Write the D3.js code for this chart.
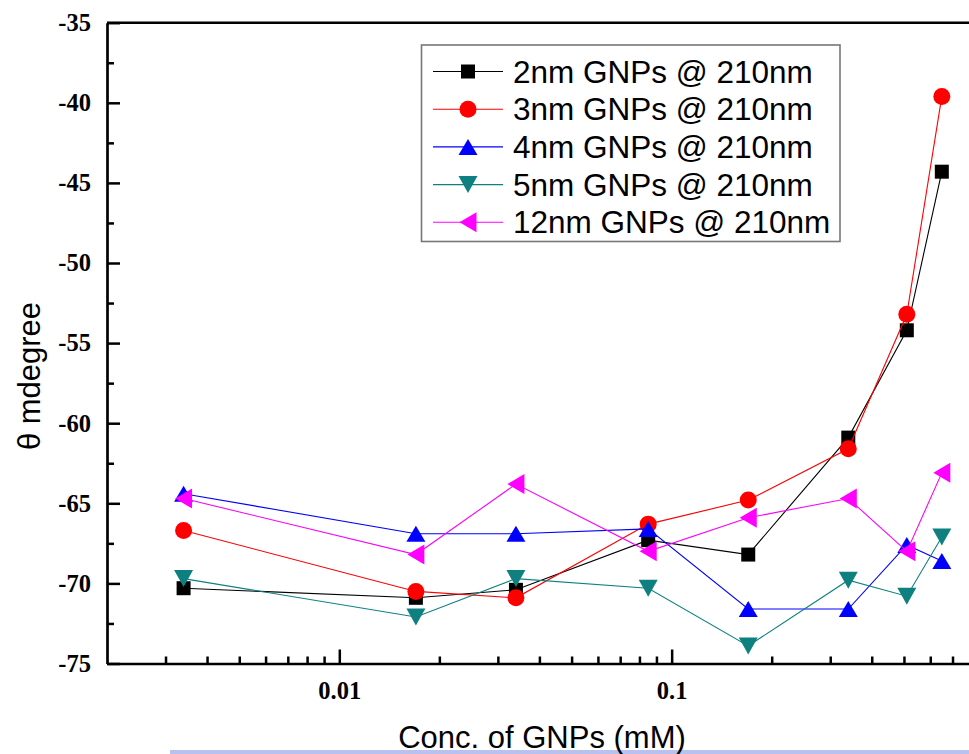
<!DOCTYPE html>
<html>
<head>
<meta charset="utf-8">
<script src="https://cdn.jsdelivr.net/npm/d3@7"></script>
<style>
  html, body { margin: 0; padding: 0; background: #fff; }
  svg { display: block; }
</style>
</head>
<body>
<svg width="969" height="754"></svg>
<script>
const width = 969;
const height = 754;

// concentrations (mM)
const conc = [0.0034, 0.017, 0.034, 0.085, 0.17, 0.34, 0.51, 0.65];

const names = ["2nm GNPs @ 210nm", "3nm GNPs @ 210nm", "4nm GNPs @ 210nm", "5nm GNPs @ 210nm", "12nm GNPs @ 210nm"];
const colors = ["#000000", "#ff0000", "#0000ff", "#0f8080", "#ff00ff"];
const shapes = ["square", "circle", "up", "down", "left"];

const nm2 = [-70.3, -70.9, -70.4, -67.3, -68.2, -60.9, -54.2, -44.3];
const nm3 = [-66.7, -70.5, -70.9, -66.3, -64.8, -61.6, -53.2, -39.6];
const nm4 = [-64.4, -66.9, -66.9, -66.6, -71.6, -71.6, -67.6, -68.6];
const nm5 = [-69.7, -72.1, -69.7, -70.3, -73.9, -69.8, -70.8, -67.1];
const nm12 = [-64.7, -68.2, -63.8, -68.0, -65.9, -64.7, -68.0, -63.1];

const seriesValues = [nm2, nm3, nm4, nm5, nm12];

const yMajor = [-75, -70, -65, -60, -55, -50, -45, -40, -35];
const yMinor = [-72.5, -67.5, -62.5, -57.5, -52.5, -47.5, -42.5, -37.5];
const xMajor = [0.01, 0.1];
const xMinor = [0.003, 0.004, 0.005, 0.006, 0.007, 0.008, 0.009,
                0.02, 0.03, 0.04, 0.05, 0.06, 0.07, 0.08, 0.09,
                0.2, 0.3, 0.4, 0.5, 0.6, 0.7, 0.8, 0.9];

const plotLeft = 107, plotRight = 1004, plotTop = 22.7, plotBottom = 663.5;

const svg = d3.select("svg");

const x = d3.scaleLog().domain([0.002, 1]).range([plotLeft, plotRight]);
const y = d3.scaleLinear().domain([-75, -35]).range([plotBottom, plotTop]);

// faint slide band at the bottom
svg.append("rect")
    .attr("x", 170).attr("y", 750).attr("width", 799).attr("height", 4)
    .attr("fill", "#b9c1ef");

// top frame
svg.append("line")
    .attr("x1", plotLeft).attr("x2", plotRight)
    .attr("y1", plotTop).attr("y2", plotTop)
    .attr("stroke", "#000").attr("stroke-width", 2.5);

// x axis
const xAxisG = svg.append("g")
    .attr("transform", `translate(0, ${plotBottom})`)
    .call(d3.axisBottom(x).tickValues(xMajor).tickSize(-14).tickSizeOuter(0)
        .tickFormat(d => String(d)));
svg.append("g")
    .attr("transform", `translate(0, ${plotBottom})`)
    .call(d3.axisBottom(x).tickValues(xMinor).tickSize(-7).tickSizeOuter(0).tickFormat(""))
    .call(g => g.select(".domain").remove());

// y axis
svg.append("g")
    .attr("transform", `translate(${plotLeft}, 0)`)
    .call(d3.axisLeft(y).tickValues(yMajor).tickSize(-13).tickSizeOuter(0).tickPadding(16)
        .tickFormat(d => String(d)));
svg.append("g")
    .attr("transform", `translate(${plotLeft}, 0)`)
    .call(d3.axisLeft(y).tickValues(yMinor).tickSize(-7).tickSizeOuter(0).tickFormat(""))
    .call(g => g.select(".domain").remove());

svg.selectAll(".domain").attr("stroke", "#000").attr("stroke-width", 2.7);
svg.selectAll(".tick line").attr("stroke", "#000").attr("stroke-width", 2.5);
svg.selectAll(".tick text")
    .attr("font-family", "'Liberation Serif', 'Times New Roman', serif")
    .attr("font-weight", "bold")
    .attr("font-size", 24.5)
    .attr("fill", "#000");
xAxisG.selectAll(".tick text").attr("y", 35).attr("dy", null);

// axis titles
svg.append("text")
    .attr("x", 542).attr("y", 748)
    .attr("text-anchor", "middle")
    .attr("font-family", "'Liberation Sans', Arial, sans-serif")
    .attr("font-size", 31)
    .text("Conc. of GNPs (mM)");

svg.append("text")
    .attr("transform", "translate(40, 376) rotate(-90)")
    .attr("text-anchor", "middle")
    .attr("font-family", "'Liberation Sans', Arial, sans-serif")
    .attr("font-size", 31)
    .text("θ mdegree");

function symbolPath(shape) {
    switch (shape) {
        case "square": return "M-7,-7H7V7H-7Z";
        case "circle": return "M8.5,0A8.5,8.5 0 1 1 -8.5,0A8.5,8.5 0 1 1 8.5,0Z";
        case "up": return "M0,-8L9.5,8L-9.5,8Z";
        case "down": return "M0,8.5L9.5,-8.5L-9.5,-8.5Z";
        case "left": return "M-8.5,0L8.5,-10L8.5,10Z";
    }
}

const line = d3.line()
    .x((d, i) => x(conc[i]))
    .y(d => y(d));

seriesValues.forEach((vals, si) => {
    const g = svg.append("g");
    g.append("path")
        .datum(vals)
        .attr("d", line)
        .attr("fill", "none")
        .attr("stroke", colors[si])
        .attr("stroke-width", 1.1);
    g.selectAll(".pt")
        .data(vals)
        .enter()
        .append("path")
        .attr("class", "pt")
        .attr("transform", (d, i) => `translate(${x(conc[i])}, ${y(d)})`)
        .attr("d", symbolPath(shapes[si]))
        .attr("fill", colors[si]);
});

// legend
const legend = svg.append("g");
legend.append("rect")
    .attr("x", 421.5).attr("y", 45)
    .attr("width", 418.5).attr("height", 196.5)
    .attr("fill", "#fff")
    .attr("stroke", "#777")
    .attr("stroke-width", 1.6);

names.forEach((name, i) => {
    const cy = 71.5 + i * 37.7;
    legend.append("line")
        .attr("x1", 433).attr("x2", 503)
        .attr("y1", cy).attr("y2", cy)
        .attr("stroke", colors[i]).attr("stroke-width", 1.1);
    legend.append("path")
        .attr("transform", `translate(468, ${cy})`)
        .attr("d", symbolPath(shapes[i]))
        .attr("fill", colors[i]);
    legend.append("text")
        .attr("x", 513).attr("y", cy + 11)
        .attr("font-family", "'Liberation Sans', Arial, sans-serif")
        .attr("font-size", 31.5)
        .attr("fill", "#000")
        .text(name);
});
</script>
</body>
</html>
